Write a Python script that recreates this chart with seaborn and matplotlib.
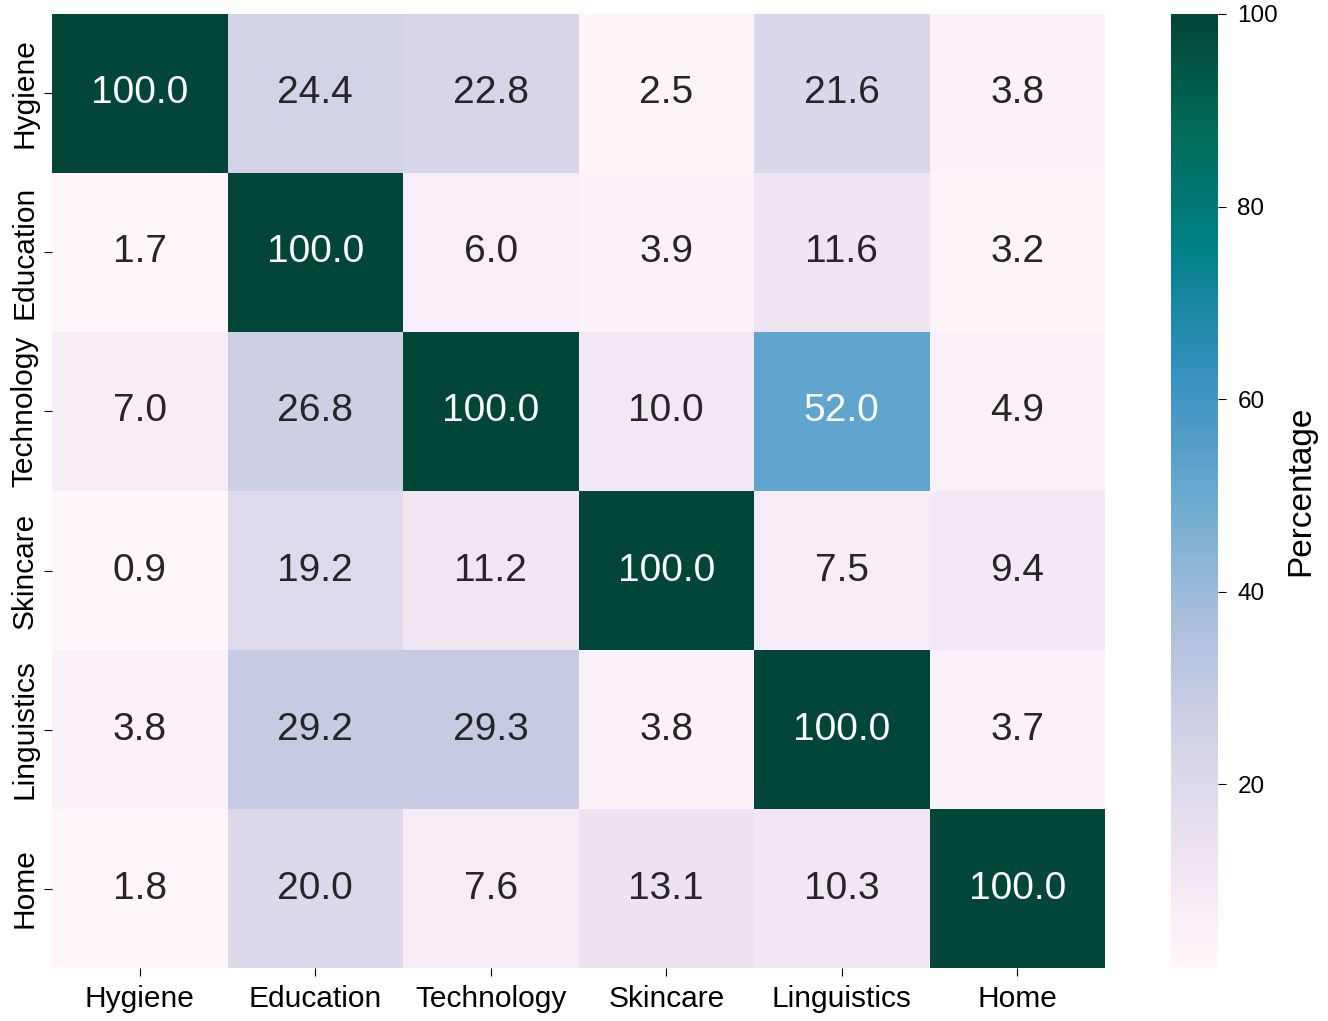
import numpy as np
import pandas as pd
import seaborn as sns
import matplotlib.pyplot as plt

plt.rcParams['font.family'] = ['Liberation Sans', 'DejaVu Sans']

# categories and overlap percentages (rows vs columns)
labels = ["Hygiene", "Education", "Technology", "Skincare", "Linguistics", "Home"]
hygiene = [100.0, 24.4, 22.8, 2.5, 21.6, 3.8]
education = [1.7, 100.0, 6.0, 3.9, 11.6, 3.2]
technology = [7.0, 26.8, 100.0, 10.0, 52.0, 4.9]
skincare = [0.9, 19.2, 11.2, 100.0, 7.5, 9.4]
linguistics = [3.8, 29.2, 29.3, 3.8, 100.0, 3.7]
home = [1.8, 20.0, 7.6, 13.1, 10.3, 100.0]

data = pd.DataFrame([hygiene, education, technology, skincare, linguistics, home],
                    index=labels, columns=labels)

fig = plt.figure(figsize=(13.28, 10.21), dpi=100)
ax = fig.add_axes([0.0392, 0.0519, 0.7929, 0.9344])
cax = fig.add_axes([0.8818, 0.0519, 0.0354, 0.9344])

sns.heatmap(data, annot=True, fmt=".1f", cmap="PuBuGn", ax=ax, cbar_ax=cax,
            annot_kws={"size": 28}, cbar_kws={"label": "Percentage"})

ax.tick_params(axis="x", labelsize=21.5, length=6, pad=6)
ax.tick_params(axis="y", labelsize=21.5, length=6, pad=4)
ax.set_yticklabels(labels, rotation=90, va="center")
ax.set_xticklabels(labels, rotation=0)
cax.tick_params(labelsize=17.5, length=6, pad=8)
cax.set_ylabel("Percentage", fontsize=24, labelpad=5)

fig.savefig("out.png", dpi=100)
